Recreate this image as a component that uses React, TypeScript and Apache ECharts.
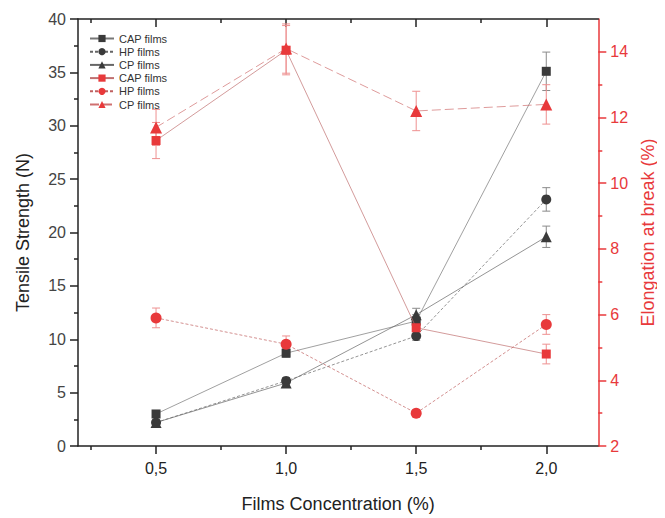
import React, { useEffect, useRef } from "react";
import * as echarts from "echarts";

const concentrations = [0.5, 1.0, 1.5, 2.0];

const capTensile = [3.0, 8.7, 11.7, 35.1];
const capTensileErr = [0.3, 0.4, 0.6, 1.8];
const hpTensile = [2.2, 6.1, 10.3, 23.1];
const hpTensileErr = [0.2, 0.3, 0.4, 1.1];
const cpTensile = [2.2, 5.9, 12.3, 19.6];
const cpTensileErr = [0.2, 0.3, 0.6, 1.0];

const capElong = [11.3, 14.05, 5.6, 4.8];
const capElongErr = [0.55, 0.75, 0.2, 0.3];
const hpElong = [5.9, 5.1, 3.0, 5.7];
const hpElongErr = [0.3, 0.25, 0.1, 0.3];
const cpElong = [11.7, 14.1, 12.2, 12.4];
const cpElongErr = [0.55, 0.75, 0.6, 0.6];

const xMajorTicks = [0.5, 1.0, 1.5, 2.0];
const xMinorTicks = [0.25, 0.75, 1.25, 1.75];
const rightMajorTicks = [2, 4, 6, 8, 10, 12, 14];
const rightMinorTicks = [3, 5, 7, 9, 11, 13];

const legendLabels: Record<string, string> = {
  "ts-cap": "CAP films",
  "ts-hp": "HP films",
  "ts-cp": "CP films",
  "el-cap": "CAP films",
  "el-hp": "HP films",
  "el-cp": "CP films",
};

const BLACK = "#3a3a3a";
const RED = "#e8393b";
const FONT = "Arial, 'Liberation Sans', sans-serif";

function errSeries(values: number[], errs: number[], yAxisIndex: number, color: string) {
  return {
    type: "custom",
    xAxisIndex: 0,
    yAxisIndex,
    silent: true,
    z: 1,
    data: concentrations.map((x, i) => [x, values[i], errs[i]]),
    encode: { x: 0, y: 1 },
    renderItem: (params: any, api: any) => {
      const x = api.value(0);
      const y = api.value(1);
      const e = api.value(2);
      const top = api.coord([x, y + e]);
      const bot = api.coord([x, y - e]);
      const hw = 4;
      const style = { stroke: color, lineWidth: 1 };
      return {
        type: "group",
        children: [
          { type: "line", shape: { x1: top[0], y1: top[1], x2: bot[0], y2: bot[1] }, style },
          { type: "line", shape: { x1: top[0] - hw, y1: top[1], x2: top[0] + hw, y2: top[1] }, style },
          { type: "line", shape: { x1: bot[0] - hw, y1: bot[1], x2: bot[0] + hw, y2: bot[1] }, style },
        ],
      };
    },
  };
}

function lineSeries(
  name: string,
  values: number[],
  yAxisIndex: number,
  color: string,
  lineColor: string,
  symbol: string,
  symbolSize: number,
  lineType: any,
  z: number
) {
  return {
    name,
    type: "line",
    xAxisIndex: 0,
    yAxisIndex,
    data: concentrations.map((x, i) => [x, values[i]]),
    symbol,
    symbolSize,
    itemStyle: { color },
    lineStyle: { color: lineColor, width: 0.7, type: lineType },
    z,
  };
}

const baseX = { type: "value", min: 0.2, max: 2.2, gridIndex: 0, splitLine: { show: false } };
const axisLineBlack = { show: true, lineStyle: { color: "#222", width: 1.5 } };

export default function App() {
  const ref = useRef<HTMLDivElement>(null);
  useEffect(() => {
    if (!ref.current) return;
    const chart = echarts.init(ref.current, undefined, { renderer: "svg" });
    chart.setOption({
      animation: false,
      backgroundColor: "#fff",
      textStyle: { fontFamily: FONT },
      grid: { left: 78, top: 19, right: 62, bottom: 67 },
      legend: {
        orient: "vertical",
        left: 84,
        top: 28,
        itemWidth: 24,
        itemHeight: 9,
        itemGap: 2.2,
        textStyle: { fontSize: 11, color: "#333", fontFamily: FONT },
        formatter: (n: string) => legendLabels[n] || n,
        data: ["ts-cap", "ts-hp", "ts-cp", "el-cap", "el-hp", "el-cp"],
      },
      xAxis: [
        {
          ...baseX,
          position: "bottom",
          name: "Films Concentration (%)",
          nameLocation: "middle",
          nameGap: 49,
          nameTextStyle: { fontSize: 18, color: "#222", fontFamily: FONT },
          axisLine: axisLineBlack,
          axisTick: { show: true, customValues: xMajorTicks, length: 8, inside: false, lineStyle: { color: "#222", width: 1.5 } },
          axisLabel: {
            customValues: xMajorTicks,
            fontSize: 16,
            color: "#222",
            margin: 14,
            fontFamily: FONT,
            formatter: (v: number) => v.toFixed(1).replace(".", ","),
          },
        },
        {
          ...baseX,
          position: "bottom",
          axisLine: { show: false },
          axisTick: { show: true, customValues: xMinorTicks, length: 4, inside: false, lineStyle: { color: "#222", width: 1.5 } },
          axisLabel: { show: false },
        },
        {
          ...baseX,
          position: "top",
          axisLine: axisLineBlack,
          axisTick: { show: true, customValues: xMajorTicks, length: 8, inside: true, lineStyle: { color: "#222", width: 1.5 } },
          axisLabel: { show: false },
        },
        {
          ...baseX,
          position: "top",
          axisLine: { show: false },
          axisTick: { show: true, customValues: xMinorTicks, length: 4, inside: true, lineStyle: { color: "#222", width: 1.5 } },
          axisLabel: { show: false },
        },
      ],
      yAxis: [
        {
          type: "value",
          position: "left",
          min: 0,
          max: 40,
          interval: 5,
          name: "Tensile Strength (N)",
          nameLocation: "middle",
          nameGap: 46,
          nameTextStyle: { fontSize: 18, color: "#222", fontFamily: FONT },
          splitLine: { show: false },
          axisLine: axisLineBlack,
          axisTick: { show: true, length: 8, lineStyle: { color: "#222", width: 1.5 } },
          minorTick: { show: true, splitNumber: 2, length: 4, lineStyle: { color: "#222", width: 1.5 } },
          axisLabel: { fontSize: 16, color: "#444", margin: 12, fontFamily: FONT },
        },
        {
          type: "value",
          position: "right",
          min: 2,
          max: 15,
          name: "Elongation at break (%)",
          nameLocation: "middle",
          nameGap: 38,
          nameRotate: 90,
          nameTextStyle: { fontSize: 18, color: RED, fontFamily: FONT },
          splitLine: { show: false },
          axisLine: { show: true, lineStyle: { color: RED, width: 1.5 } },
          axisTick: { show: true, customValues: rightMajorTicks, length: 8, lineStyle: { color: RED, width: 1.5 } },
          axisLabel: { customValues: rightMajorTicks, fontSize: 16, color: RED, margin: 12, fontFamily: FONT },
        },
        {
          type: "value",
          position: "right",
          min: 2,
          max: 15,
          splitLine: { show: false },
          axisLine: { show: false },
          axisTick: { show: true, customValues: rightMinorTicks, length: 4, lineStyle: { color: RED, width: 1.5 } },
          axisLabel: { show: false },
        },
      ],
      series: [
        errSeries(capTensile, capTensileErr, 0, "#8a8a8a"),
        errSeries(hpTensile, hpTensileErr, 0, "#8a8a8a"),
        errSeries(cpTensile, cpTensileErr, 0, "#8a8a8a"),
        errSeries(capElong, capElongErr, 1, "#ee9090"),
        errSeries(hpElong, hpElongErr, 1, "#ee9090"),
        errSeries(cpElong, cpElongErr, 1, "#ee9090"),
        lineSeries("ts-cap", capTensile, 0, BLACK, "#777", "rect", 9, "solid", 3),
        lineSeries("ts-hp", hpTensile, 0, BLACK, "#666", "circle", 10, [3, 2], 3),
        lineSeries("ts-cp", cpTensile, 0, BLACK, "#666", "triangle", 11, "solid", 3),
        lineSeries("el-cap", capElong, 1, RED, "#c07070", "rect", 9, "solid", 4),
        lineSeries("el-hp", hpElong, 1, RED, "#c06060", "circle", 11, [3, 2], 4),
        lineSeries("el-cp", cpElong, 1, RED, "#d07070", "triangle", 12, [9, 4], 4),
      ],
    });
    return () => chart.dispose();
  }, []);
  return <div ref={ref} style={{ width: 665, height: 518, marginLeft: -8, marginTop: -8 }} />;
}
